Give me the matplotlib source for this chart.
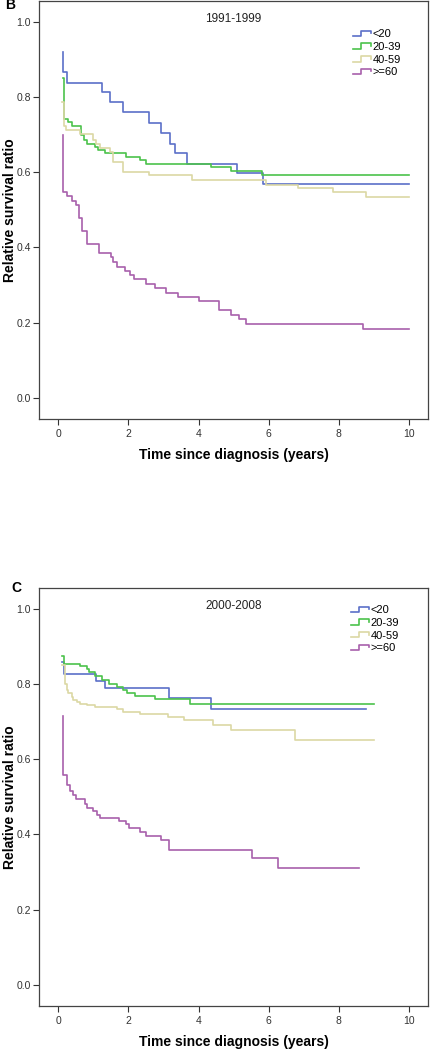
import matplotlib
matplotlib.use("Agg")
import matplotlib.pyplot as plt
from matplotlib.legend_handler import HandlerBase
from matplotlib.lines import Line2D

plt.rcParams['font.family'] = ['Liberation Sans', 'DejaVu Sans']

groups = ["<20", "20-39", "40-59", ">=60"]
colors = ["#5b70c8", "#4cc24c", "#dcd8a4", "#a860ac"]
panel_labels = ["B", "C"]
period_titles = ["1991-1999", "2000-2008"]
x_ticks = [0, 2, 4, 6, 8, 10]
y_ticks = [0.0, 0.2, 0.4, 0.6, 0.8, 1.0]

# Panel B: 1991-1999
b_lt20_t = [0.12, 0.14, 0.24, 1.24, 1.48, 1.85, 2.59, 2.93, 3.19, 3.33, 3.68, 5.09, 5.84, 10.0]
b_lt20_v = [0.920, 0.866, 0.838, 0.812, 0.785, 0.759, 0.731, 0.703, 0.676, 0.650, 0.622, 0.597, 0.568, 0.568]
b_2039_t = [0.12, 0.15, 0.27, 0.38, 0.65, 0.74, 0.83, 1.06, 1.14, 1.33, 1.93, 2.33, 2.50, 4.35, 4.92, 5.80, 10.0]
b_2039_v = [0.849, 0.740, 0.732, 0.722, 0.698, 0.685, 0.676, 0.668, 0.659, 0.650, 0.641, 0.632, 0.622, 0.613, 0.604, 0.593, 0.593]
b_4059_t = [0.11, 0.16, 0.23, 0.62, 1.00, 1.08, 1.20, 1.47, 1.57, 1.85, 2.59, 3.82, 5.92, 6.84, 7.84, 8.76, 10.0]
b_4059_v = [0.787, 0.722, 0.712, 0.700, 0.685, 0.676, 0.665, 0.654, 0.628, 0.601, 0.592, 0.580, 0.567, 0.558, 0.546, 0.535, 0.535]
b_ge60_t = [0.12, 0.14, 0.26, 0.40, 0.50, 0.59, 0.67, 0.83, 1.16, 1.50, 1.57, 1.66, 1.90, 2.04, 2.17,
            2.49, 2.76, 3.07, 3.40, 4.01, 4.58, 4.91, 5.15, 5.35, 8.68, 10.0]
b_ge60_v = [0.699, 0.548, 0.537, 0.524, 0.513, 0.477, 0.444, 0.409, 0.384, 0.374, 0.362, 0.349, 0.338, 0.327, 0.315,
            0.303, 0.291, 0.280, 0.268, 0.257, 0.233, 0.220, 0.209, 0.197, 0.184, 0.184]

# Panel C: 2000-2008
c_lt20_t = [0.11, 0.16, 1.07, 1.33, 3.17, 4.35, 8.76]
c_lt20_v = [0.859, 0.826, 0.808, 0.790, 0.764, 0.733, 0.733]
c_2039_t = [0.11, 0.16, 0.62, 0.81, 0.88, 1.05, 1.24, 1.45, 1.66, 1.85, 1.95, 2.19, 2.76, 3.75, 9.0]
c_2039_v = [0.874, 0.854, 0.848, 0.841, 0.832, 0.821, 0.810, 0.801, 0.792, 0.784, 0.776, 0.768, 0.759, 0.746, 0.746]
c_4059_t = [0.11, 0.19, 0.24, 0.29, 0.38, 0.43, 0.52, 0.62, 0.81, 1.05, 1.66, 1.85, 2.33, 3.14, 3.57, 4.42, 4.91, 6.76, 9.0]
c_4059_v = [0.850, 0.801, 0.784, 0.775, 0.766, 0.757, 0.753, 0.748, 0.744, 0.739, 0.733, 0.726, 0.720, 0.713, 0.704,
            0.692, 0.678, 0.651, 0.651]
c_ge60_t = [0.12, 0.14, 0.26, 0.33, 0.41, 0.50, 0.76, 0.83, 0.98, 1.09, 1.19, 1.74, 1.93, 2.01, 2.33, 2.49, 2.93,
            3.17, 5.51, 6.25, 8.58]
c_ge60_v = [0.714, 0.558, 0.531, 0.516, 0.506, 0.494, 0.480, 0.471, 0.462, 0.453, 0.445, 0.436, 0.427, 0.418, 0.407,
            0.397, 0.385, 0.359, 0.338, 0.310, 0.310]

panels = [
    [(b_lt20_t, b_lt20_v), (b_2039_t, b_2039_v), (b_4059_t, b_4059_v), (b_ge60_t, b_ge60_v)],
    [(c_lt20_t, c_lt20_v), (c_2039_t, c_2039_v), (c_4059_t, c_4059_v), (c_ge60_t, c_ge60_v)],
]


class StepHandler(HandlerBase):
    def create_artists(self, legend, orig_handle, xdescent, ydescent, width, height, fontsize, trans):
        x0, y0 = -xdescent, -ydescent
        xm = x0 + 0.45 * width
        xs = [x0, xm, xm, x0 + width, x0 + width]
        ys = [y0 + 0.15 * height, y0 + 0.15 * height, y0 + 0.85 * height, y0 + 0.85 * height, y0 + 0.5 * height]
        ln = Line2D(xs, ys, color=orig_handle.get_color(), lw=orig_handle.get_linewidth())
        ln.set_transform(trans)
        return [ln]


W, H = 430, 1050
fig = plt.figure(figsize=(W / 100, H / 100), dpi=100)

ax_rects = [
    (39 / W, 1 - 419 / H, 389 / W, 418.5 / H),
    (39 / W, 1 - 1006 / H, 389 / W, 418.3 / H),
]
legend_anchor = [(0.807, 0.931), (0.803, 0.958)]
panel_label_pos = [(10, 5), (16, 587.5)]

for i, rect in enumerate(ax_rects):
    ax = fig.add_axes(rect)
    handles = []
    for (t, v), c, g in zip(panels[i], colors, groups):
        h, = ax.step(t, v, where='post', color=c, lw=1.2, label=g)
        handles.append(h)
    ax.set_xlim(-0.55, 10.54)
    ax.set_ylim(-0.056, 1.056)
    ax.set_xticks(x_ticks)
    ax.set_xticklabels([str(x) for x in x_ticks])
    ax.set_yticks(y_ticks)
    ax.set_yticklabels([f"{y:.1f}" for y in y_ticks])
    ax.tick_params(direction='out', length=4, width=0.8, colors='#333333', labelsize=7.5, pad=2)
    ax.tick_params(axis='x', pad=3)
    for s in ax.spines.values():
        s.set_color('#444444')
        s.set_linewidth(0.9)
    ax.set_xlabel("Time since diagnosis (years)", fontsize=10, fontweight='bold', va='center')
    ax.xaxis.set_label_coords(0.5, -0.087)
    ax.set_ylabel("Relative survival ratio", fontsize=10, fontweight='bold', va='center')
    ax.yaxis.set_label_coords(-0.075, 0.5)
    ax.text(0.5, 0.955 if i == 0 else 0.957, period_titles[i], transform=ax.transAxes,
            ha='center', va='center', fontsize=8.5, color='#222222')
    ax.legend(handles=handles, handler_map={Line2D: StepHandler()}, loc='upper left',
              bbox_to_anchor=legend_anchor[i], frameon=False, fontsize=8, borderpad=0,
              borderaxespad=0, handlelength=1.6, handletextpad=0.15, labelspacing=0.24)
    px, py = panel_label_pos[i]
    fig.text(px / W, 1 - py / H, panel_labels[i], ha='center', va='center', fontsize=10, fontweight='bold')

fig.savefig("out.png", dpi=100)
